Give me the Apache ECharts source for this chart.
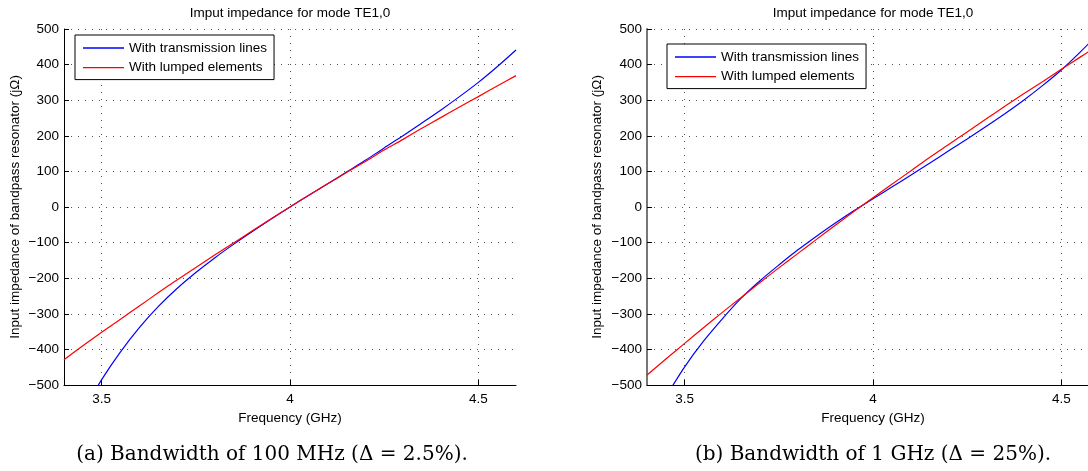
<!DOCTYPE html>
<html>
<head>
<meta charset="utf-8">
<script src="https://cdn.jsdelivr.net/npm/echarts@6/dist/echarts.min.js"></script>
<style>
  html, body { margin: 0; padding: 0; background: #fff; }
  #chart { width: 1088px; height: 471px; }
</style>
</head>
<body>
<div id="chart"></div>
<script>
// frequency samples (GHz)
const freqs = [3.40, 3.45, 3.50, 3.55, 3.60, 3.65, 3.70, 3.75, 3.80, 3.85, 3.90, 3.95,
  4.00, 4.05, 4.10, 4.15, 4.20, 4.25, 4.30, 4.35, 4.40, 4.45, 4.50, 4.55, 4.60];

// (a) bandwidth 100 MHz
const transA = [null, -575, -485, -407, -339, -280, -229, -184, -143, -105, -69, -34,
  0, 33, 65, 98, 131, 166, 200, 236, 272, 310, 350, 394, 441];
const lumpedA = [-429, -390, -352, -315, -278, -241, -205, -170, -135, -101, -67, -33,
  0, 33, 65, 97, 128, 160, 190, 221, 251, 281, 310, 340, 369];

// (b) bandwidth 1 GHz
const transB = [null, -533, -449, -377, -314, -256, -207, -163, -121, -82, -45, -10,
  23, 56, 89, 123, 157, 191, 226, 262, 300, 341, 385, 435, 489];
const lumpedB = [-472, -427, -383, -339, -296, -254, -212, -171, -131, -91, -51, -12,
  26, 64, 101, 139, 175, 211, 247, 283, 318, 352, 387, 421, 455];

const xTicks = [3.5, 4, 4.5];
const seriesNames = ["With transmission lines", "With lumped elements"];
const titleText = "Imput impedance for mode TE1,0";
const captions = ["(a) Bandwidth of 100 MHz (\u0394 = 2.5%).", "(b) Bandwidth of 1 GHz (\u0394 = 25%)."];

const sans = "Liberation Sans, Arial, sans-serif";
const fs = 13.5;

function pairs(ys) {
  return freqs.map((f, i) => [f, ys[i]]);
}

function minus(v) {
  return String(v).replace("-", "\u2212");
}

const dotted = { color: "#555", width: 1, type: [1, 6] };

function xAxisFor(gi) {
  return {
    gridIndex: gi,
    type: "value",
    min: 3.4,
    max: 4.6,
    name: "Frequency (GHz)",
    nameLocation: "middle",
    nameGap: 21,
    nameTextStyle: { fontFamily: sans, fontSize: fs, color: "#000" },
    axisLine: { show: true, onZero: false, lineStyle: { color: "#000", width: 1 } },
    axisTick: { show: true, inside: true, length: 5, customValues: xTicks, lineStyle: { color: "#000" } },
    axisLabel: { customValues: xTicks, margin: 7, fontFamily: sans, fontSize: fs, color: "#000" },
    splitLine: { show: true, lineStyle: dotted },
  };
}

function yAxisFor(gi, lineColor, lineWidth, gap) {
  return {
    gridIndex: gi,
    type: "value",
    min: -500,
    max: 500,
    interval: 100,
    name: "Input impedance of bandpass resonator (j\u03a9)",
    nameLocation: "middle",
    nameGap: gap,
    nameTextStyle: { fontFamily: sans, fontSize: fs, color: "#000" },
    axisLine: { show: true, onZero: false, lineStyle: { color: lineColor, width: lineWidth } },
    axisTick: { show: true, inside: true, length: 5, lineStyle: { color: "#000" } },
    axisLabel: { margin: 5, fontFamily: sans, fontSize: fs, color: "#000", formatter: minus },
    splitLine: { show: true, lineStyle: dotted },
  };
}

function lineSeries(name, color, data, gi) {
  return {
    name: name,
    type: "line",
    xAxisIndex: gi,
    yAxisIndex: gi,
    data: pairs(data),
    smooth: 0.3,
    showSymbol: false,
    symbol: "none",
    clip: true,
    lineStyle: { color: color, width: 1.2 },
    itemStyle: { color: color },
    emphasis: { disabled: true },
  };
}

function legendFor(left, top) {
  return {
    orient: "vertical",
    left: left,
    top: top,
    data: seriesNames,
    icon: "rect",
    itemWidth: 41,
    itemHeight: 1.3,
    itemGap: 5.6,
    padding: [6, 7, 5, 8],
    backgroundColor: "#fff",
    borderColor: "#000",
    borderWidth: 1,
    borderRadius: 0,
    selectedMode: false,
    textStyle: { fontFamily: sans, fontSize: fs, color: "#000", lineHeight: 14 },
  };
}

const option = {
  animation: false,
  backgroundColor: "#fff",
  grid: [
    { left: 64, top: 29, width: 452, height: 356, outerBoundsMode: "none" },
    { left: 647, top: 29, width: 452, height: 356, outerBoundsMode: "none" },
  ],
  xAxis: [xAxisFor(0), xAxisFor(1)],
  yAxis: [yAxisFor(0, "#000", 1, 42), yAxisFor(1, "#777", 2, 43)],
  legend: [legendFor(75, 35), legendFor(667, 44)],
  series: [
    lineSeries(seriesNames[0], "#0000ff", transA, 0),
    lineSeries(seriesNames[1], "#ff0000", lumpedA, 0),
    lineSeries(seriesNames[0], "#0000ff", transB, 1),
    lineSeries(seriesNames[1], "#ff0000", lumpedB, 1),
  ],
  graphic: [
    { type: "text", x: 290, y: 13, style: { text: titleText, font: fs + "px " + sans, fill: "#000", align: "center", verticalAlign: "middle" } },
    { type: "text", x: 873, y: 13, style: { text: titleText, font: fs + "px " + sans, fill: "#000", align: "center", verticalAlign: "middle" } },
    { type: "text", x: 272, y: 455, style: { text: captions[0], font: "20px 'DejaVu Serif', serif", fill: "#000", align: "center", verticalAlign: "middle" } },
    { type: "text", x: 873, y: 455, style: { text: captions[1], font: "20px 'DejaVu Serif', serif", fill: "#000", align: "center", verticalAlign: "middle" } },
  ],
};

const myChart = echarts.init(document.getElementById("chart"));
myChart.setOption(option);
</script>
</body>
</html>
